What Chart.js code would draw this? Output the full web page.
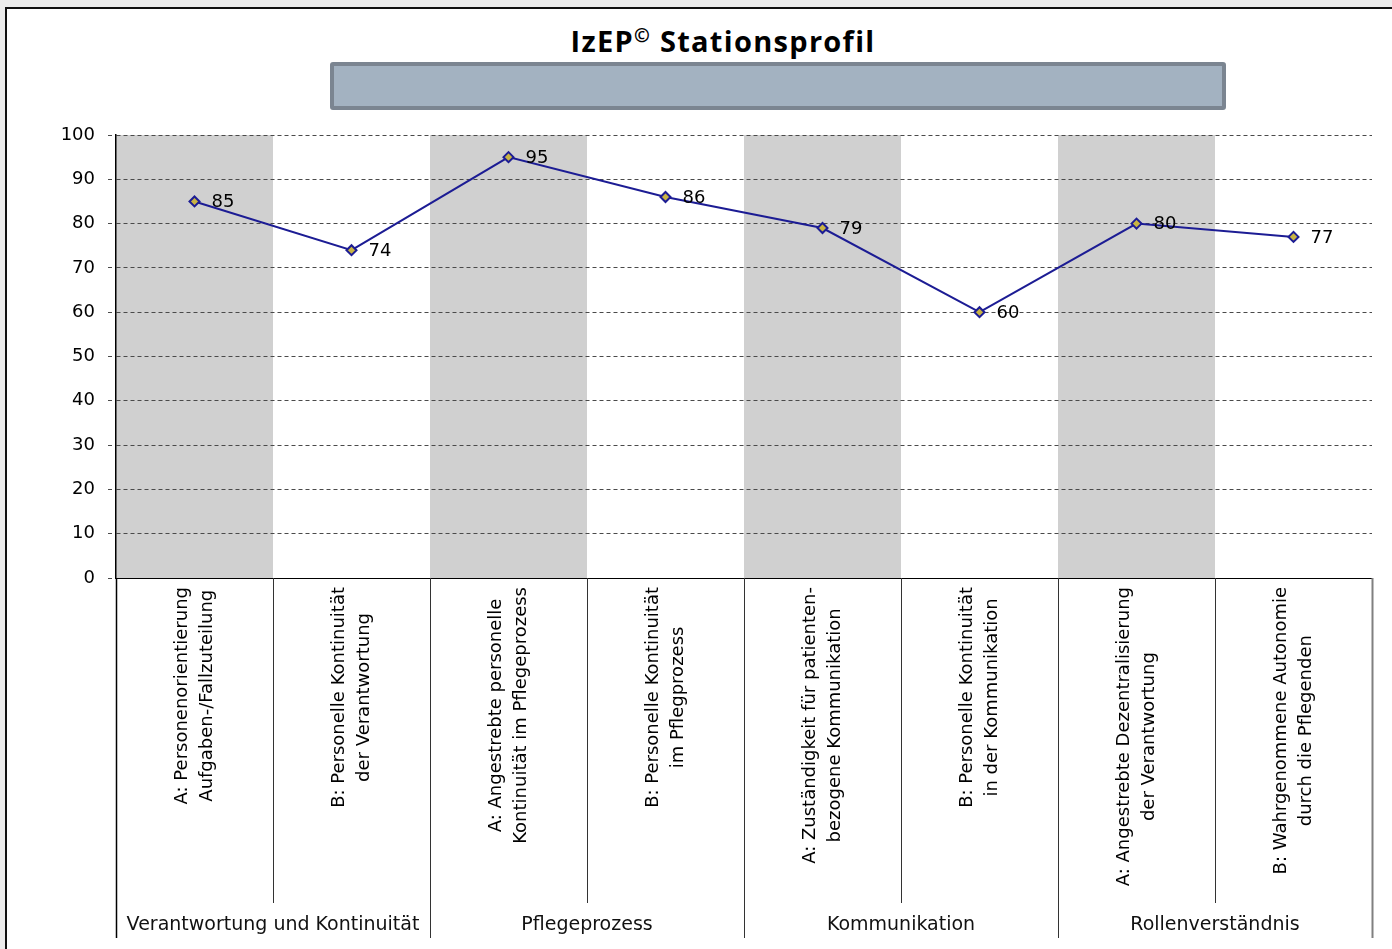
<!DOCTYPE html>
<html lang="de">
<head>
    <meta charset="UTF-8">
    <title>IzEP Stationsprofil</title>
    <script src="https://cdn.jsdelivr.net/npm/chart.js"></script>
    <style>
        body {
            margin: 0;
            background-color: #ececec;
            width: 1392px;
            height: 949px;
            overflow: hidden;
            position: relative;
        }
        .frame {
            position: absolute;
            left: 5px;
            top: 7px;
            width: 1400px;
            height: 960px;
            background: #fff;
            border-left: 2px solid #111;
            border-top: 2px solid #111;
        }
        .title {
            position: absolute;
            left: 0;
            width: 1446px;
            top: 22px;
            line-height: 38px;
            text-align: center;
            font-family: "Open Sans", Lato, sans-serif;
            font-weight: bold;
            font-size: 29px;
            letter-spacing: 1.3px;
            color: #000;
        }
        .title sup {
            font-size: 19px;
            vertical-align: 10px;
            line-height: 0;
        }
        .subbox {
            position: absolute;
            left: 330px;
            top: 62px;
            width: 888px;
            height: 40px;
            background: #a3b2c1;
            border: 4px solid #7b8591;
            border-radius: 3px;
        }
        canvas {
            position: absolute;
            left: 0;
            top: 0;
        }
    </style>
</head>
<body>
    <div class="frame"></div>
    <div class="title">IzEP<sup>©</sup> Stationsprofil</div>
    <div class="subbox"></div>
    <canvas id="profileChart" width="1392" height="949"></canvas>
    <script>
        // Kategorien (zweizeilig wie im Original)
        const categories = [
            ['A: Personenorientierung', 'Aufgaben-/Fallzuteilung'],
            ['B: Personelle Kontinuität', 'der Verantwortung'],
            ['A: Angestrebte personelle', 'Kontinuität im Pflegeprozess'],
            ['B: Personelle Kontinuität', 'im Pflegprozess'],
            ['A: Zuständigkeit für patienten-', 'bezogene Kommunikation'],
            ['B: Personelle Kontinuität', 'in der Kommunikation'],
            ['A: Angestrebte Dezentralisierung', 'der Verantwortung'],
            ['B: Wahrgenommene Autonomie', 'durch die Pflegenden']
        ];
        const groups = ['Verantwortung und Kontinuität', 'Pflegeprozess', 'Kommunikation', 'Rollenverständnis'];
        const values = [85, 74, 95, 86, 79, 60, 80, 77];
        const yTicks = [0, 10, 20, 30, 40, 50, 60, 70, 80, 90, 100];

        const FONT = '"DejaVu Sans", Verdana, sans-serif';

        // grey bands behind every "A" column, drawn before the grid
        const bandsPlugin = {
            id: 'bands',
            beforeDraw(chart) {
                const { ctx, chartArea, scales: { x } } = chart;
                const w = x.width / categories.length;
                ctx.save();
                ctx.fillStyle = '#d0d0d0';
                categories.forEach((c, i) => {
                    if (i % 2 !== 0) return;
                    const cx = x.getPixelForValue(i);
                    ctx.fillRect(cx - w / 2, chartArea.top, w, chartArea.bottom - chartArea.top);
                });
                ctx.restore();
            }
        };

        // value labels right of the markers
        const valueLabels = {
            id: 'valueLabels',
            afterDatasetsDraw(chart) {
                const { ctx } = chart;
                const meta = chart.getDatasetMeta(0);
                ctx.save();
                ctx.font = '18px ' + FONT;
                ctx.fillStyle = '#000';
                ctx.textAlign = 'left';
                ctx.textBaseline = 'middle';
                meta.data.forEach((pt, i) => {
                    ctx.fillText(values[i], pt.x + 17, pt.y + 1);
                });
                ctx.restore();
            }
        };

        // rotated category labels, separators and group labels below the axis
        const categoryAxis = {
            id: 'categoryAxis',
            afterDraw(chart) {
                const { ctx, chartArea, scales: { x } } = chart;
                const w = x.width / categories.length;
                const base = chartArea.bottom;
                ctx.save();

                // separators
                for (let i = 0; i <= categories.length; i++) {
                    const px = Math.round(x.getPixelForValue(0) - w / 2 + i * w) + 0.5;
                    const groupEdge = i % 2 === 0;
                    ctx.beginPath();
                    if (i === 0) {
                        ctx.strokeStyle = '#000';
                        ctx.lineWidth = 1.5;
                    } else if (i === categories.length) {
                        ctx.strokeStyle = '#808080';
                        ctx.lineWidth = 2;
                    } else {
                        ctx.strokeStyle = '#333';
                        ctx.lineWidth = 1;
                    }
                    ctx.moveTo(px, base);
                    ctx.lineTo(px, groupEdge ? 938 : 903);
                    ctx.stroke();
                }

                // category labels
                ctx.font = '18px ' + FONT;
                ctx.fillStyle = '#000';
                ctx.textAlign = 'center';
                ctx.textBaseline = 'middle';
                const lineH = 25;
                categories.forEach((lines, i) => {
                    const cx = x.getPixelForValue(i);
                    const maxW = Math.max(...lines.map(l => ctx.measureText(l).width));
                    ctx.save();
                    ctx.translate(cx, base + 9 + maxW / 2);
                    ctx.rotate(-Math.PI / 2);
                    lines.forEach((l, j) => {
                        ctx.fillText(l, 0, (j - (lines.length - 1) / 2) * lineH);
                    });
                    ctx.restore();
                });

                // group labels
                ctx.font = '19px ' + FONT;
                ctx.fillStyle = '#111';
                groups.forEach((g, k) => {
                    const cx = (x.getPixelForValue(k * 2) + x.getPixelForValue(k * 2 + 1)) / 2;
                    ctx.fillText(g, cx, 925);
                });
                ctx.restore();
            }
        };

        const ctx = document.getElementById('profileChart').getContext('2d');
        new Chart(ctx, {
            type: 'line',
            data: {
                labels: categories,
                datasets: [{
                    label: 'Stationsprofil',
                    data: values,
                    borderColor: '#1c1c94',
                    borderWidth: 2,
                    tension: 0,
                    pointStyle: 'rectRot',
                    pointRadius: 5,
                    pointBackgroundColor: '#c9b444',
                    pointBorderColor: '#1c1c94',
                    pointBorderWidth: 2
                }]
            },
            options: {
                responsive: false,
                animation: false,
                layout: {
                    padding: { top: 135, right: 20, left: 40, bottom: 0 }
                },
                plugins: {
                    legend: { display: false },
                    tooltip: { enabled: false }
                },
                scales: {
                    x: {
                        offset: true,
                        grid: { display: false },
                        border: { display: true, color: '#000', width: 1 },
                        ticks: { display: false },
                        afterFit(scale) { scale.height = 371; }
                    },
                    y: {
                        min: 0,
                        max: 100,
                        afterBuildTicks(scale) {
                            scale.ticks = yTicks.map(v => ({ value: v }));
                        },
                        grid: {
                            color: '#4a4a4a',
                            lineWidth: 1,
                            tickLength: 8,
                            tickColor: '#4a4a4a',
                            tickBorderDash: [4, 3]
                        },
                        border: { display: true, color: '#000', width: 1.5, dash: [4, 3] },
                        ticks: {
                            padding: 13,
                            color: '#000',
                            font: { family: FONT, size: 18 }
                        },
                        afterFit(scale) { scale.width = 76; }
                    }
                }
            },
            plugins: [bandsPlugin, valueLabels, categoryAxis]
        });
    </script>
</body>
</html>
